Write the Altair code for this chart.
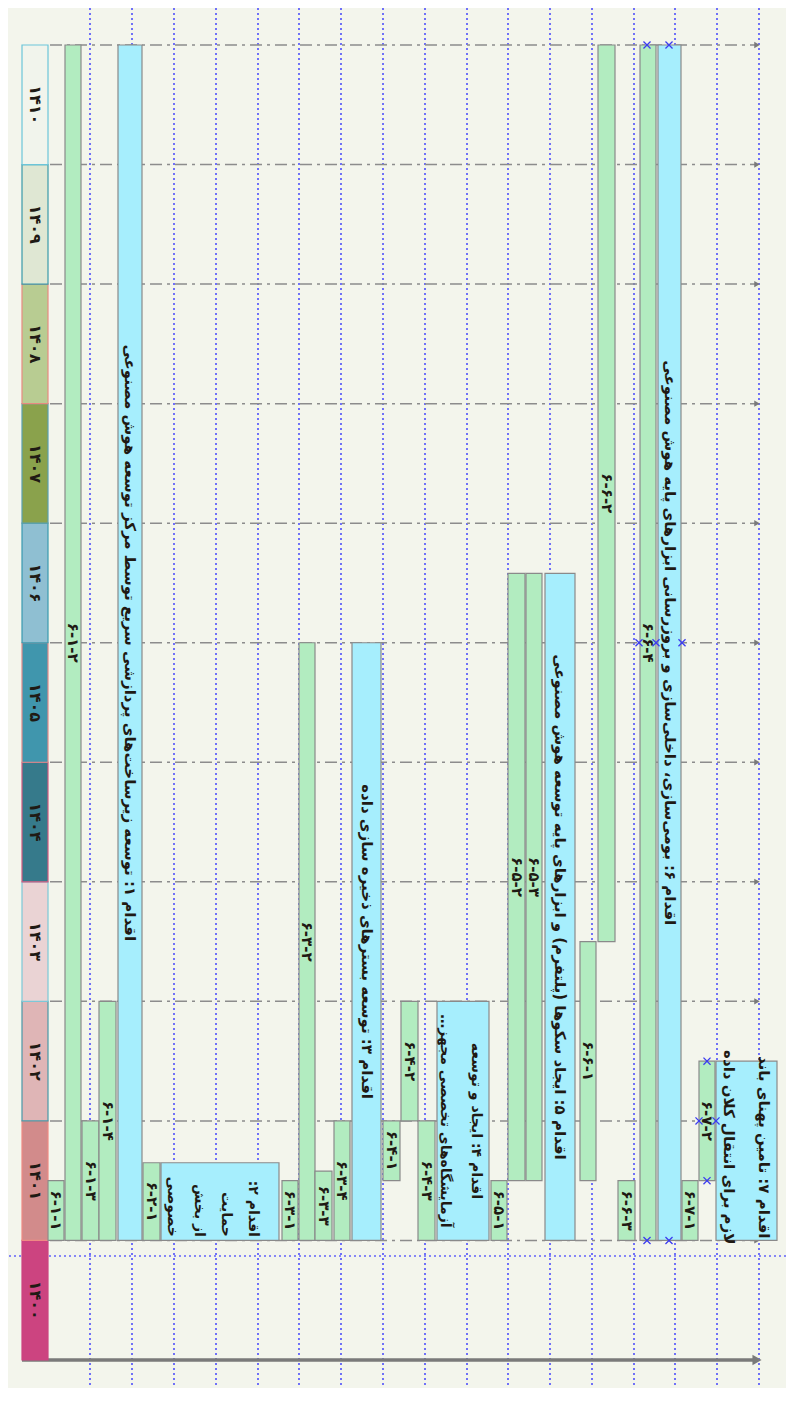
import altair as alt
import pandas as pd

# ---------------- data ----------------
years = list(range(1400, 1411))
year_labels = ["۱۴۰۰", "۱۴۰۱", "۱۴۰۲", "۱۴۰۳", "۱۴۰۴", "۱۴۰۵",
               "۱۴۰۶", "۱۴۰۷", "۱۴۰۸", "۱۴۰۹", "۱۴۱۰"]
year_fill = ["#cc4480", "#d28b8b", "#dfb5b6", "#ead3d4", "#367a8b", "#4096ad",
             "#8fbfd2", "#8aa24c", "#b8cc92", "#dfe7d3", "#f1f4ec"]
year_stroke = ["#cc4480", "#ef8a84", "#4a98a8", "#7cc8d8", "#d05a80", "#e08a8a",
               "#3a9ab0", "#5aa0b0", "#e88a80", "#3a9aaa", "#6cc5d9"]

A1 = "اقدام ۱: توسعه زیرساخت‌های پردازشی سریع توسط مرکز توسعه هوش مصنوعی"
A2 = "اقدام ۲:\u200f\nحمایت\nاز بخش\nخصوصی"
A3 = "اقدام ۳: توسعه بسترهای ذخیره سازی داده"
A4 = "اقدام ۴: ایجاد و توسعه\nآزمایشگاه‌های تخصصی مجهز…\u200f"
A5 = "اقدام ۵: ایجاد سکوها (پلتفرم) و ابزارهای پایه توسعه هوش مصنوعی"
A6 = "اقدام ۶: بومی‌سازی، داخلی‌سازی و بروزرسانی ابزارهای پایه هوش مصنوعی"
A7 = "اقدام ۷: تامین پهنای باند\nلازم برای انتقال کلان داده"

task_labels = ["۶-۱-۱", "۶-۱-۲", "۶-۱-۳", "۶-۱-۴", A1, "۶-۲-۱", A2,
               "۶-۳-۱", "۶-۳-۲", "۶-۳-۳", "۶-۳-۴", A3,
               "۶-۴-۱", "۶-۴-۲", "۶-۴-۳", A4,
               "۶-۵-۱", "۶-۵-۲", "۶-۵-۳", A5,
               "۶-۶-۱", "۶-۶-۲", "۶-۶-۳", "۶-۶-۴", A6,
               "۶-۷-۱", "۶-۷-۲", A7]
task_kind = ["sub", "sub", "sub", "sub", "act", "sub", "act",
             "sub", "sub", "sub", "sub", "act",
             "sub", "sub", "sub", "act",
             "sub", "sub", "sub", "act",
             "sub", "sub", "sub", "sub", "act",
             "sub", "sub", "act"]
task_start = [1401, 1401, 1401, 1401, 1401, 1401, 1401,
              1401, 1401, 1401, 1401, 1401,
              1401.5, 1402, 1401, 1401,
              1401, 1401.5, 1401.5, 1401,
              1401.5, 1403.5, 1401, 1401, 1401,
              1401, 1401.5, 1401]
task_end = [1401.5, 1411, 1402, 1403, 1411, 1401.65, 1401.65,
            1401.5, 1406, 1401.58, 1402, 1406,
            1402, 1403, 1402, 1403,
            1401.5, 1406.58, 1406.58, 1406.58,
            1403.5, 1411, 1401.5, 1411, 1411,
            1401.5, 1402.5, 1402.5]
# row (lane) extent of every task across the rotated chart
task_row_lo = [48, 65, 82, 99, 118, 143, 161,
               282, 299, 315, 334, 352,
               383, 401, 418, 437,
               491, 508, 526, 545,
               580, 598, 618, 640, 658,
               682, 699, 716]
task_row_hi = [64, 81, 99, 116, 142, 160, 279,
               298, 315, 332, 350, 381,
               400, 418, 435, 489,
               507, 525, 542, 575,
               596, 615, 635, 656, 681,
               698, 715, 777]

# wrapped labels of the wide boxes: one entry per line
line_rows = {6: [253, 226, 199, 172], 15: [476, 445], 27: [764, 729]}
line_years = {6: 1401.03, 15: 1402.0, 27: 1401.78}
line_aligns = {6: "right", 15: "center", 27: "center"}

grid_rows = [90, 132, 174, 216, 258, 299, 341, 383, 425, 467, 508,
             550, 592, 634, 675, 717, 759]
today_year = 1400.87

marker_row = [647, 669, 639, 656, 682, 647, 669, 707, 699, 716, 707]
marker_year = [1411, 1411, 1406, 1406, 1406, 1401, 1401, 1402.5, 1402, 1402, 1401.5]

# ---------------- frames ----------------
yr = pd.DataFrame({"y0": years, "y1": [y + 1 for y in years], "label": year_labels,
                   "fill": year_fill, "stroke": year_stroke})
yr["ym"] = yr["y0"] + 0.5
yr["x0"] = 22
yr["x1"] = 48
yr["xm"] = 35

bounds = pd.DataFrame({"y": [y + 1 for y in years], "x0": 50, "x1": 756, "xa": 757})
axis_df = pd.DataFrame({"y": [1400], "x0": 22, "x1": 754, "xa": 757})

tasks = pd.DataFrame({"label": task_labels, "kind": task_kind, "s": task_start,
                      "e": task_end, "lo": task_row_lo, "hi": task_row_hi})
tasks["xm"] = (tasks["lo"] + tasks["hi"]) / 2
tasks["ym"] = (tasks["s"] + tasks["e"]) / 2
tasks["wrapped"] = [i in line_rows for i in range(len(tasks))]
tasks["fill"] = tasks["kind"].map({"sub": "#b2ecc0", "act": "#a6eefd"})

rows = []
for i, xs_ in line_rows.items():
    for txt, xr in zip(task_labels[i].split("\n"), xs_):
        rows.append({"text": txt, "x": xr, "y": line_years[i], "align": line_aligns[i],
                     "big": i == 27})
lines = pd.DataFrame(rows)

grid = pd.DataFrame({"x": grid_rows})
today = pd.DataFrame({"y": [today_year]})
marks = pd.DataFrame({"x": marker_row, "y": marker_year})

xs = alt.Scale(domain=[8, 786], nice=False, zero=False)
ys = alt.Scale(domain=[1399.7658, 1411.3095], nice=False, zero=False)


def X(f):
    return alt.X(f, type="quantitative", scale=xs, axis=None)


def Y(f):
    return alt.Y(f, type="quantitative", scale=ys, axis=None)


FONT = "DejaVu Sans"
TXT = "#1f1a14"

vgrid = alt.Chart(grid).mark_rule(color="#1a1aff", strokeDash=[2, 3], strokeWidth=1.2).encode(x=X("x"))
hgrid = alt.Chart(today).mark_rule(color="#1a1aff", strokeDash=[2, 3], strokeWidth=1.2).encode(y=Y("y"))

year_rect = alt.Chart(yr).mark_rect(strokeWidth=1.2).encode(
    x=X("x0"), x2="x1", y=Y("y0"), y2="y1",
    fill=alt.Fill("fill:N", scale=None), stroke=alt.Stroke("stroke:N", scale=None))
year_text = alt.Chart(yr).mark_text(angle=90, font=FONT, fontSize=16, fontWeight="bold",
                                    color=TXT, align="center", baseline="middle").encode(
    x=X("xm"), y=Y("ym"), text="label:N")

bound_lines = alt.Chart(bounds).mark_rule(color="#8c8c8c", strokeWidth=1.5,
                                          strokeDash=[12, 5, 3, 5]).encode(
    x=X("x0"), x2="x1", y=Y("y"))
bound_arrows = alt.Chart(bounds).mark_point(shape="triangle-right", filled=True, size=40,
                                            color="#7a7a7a", opacity=1).encode(x=X("xa"), y=Y("y"))
axis_line = alt.Chart(axis_df).mark_rule(color="#7a7a7a", strokeWidth=3.5).encode(
    x=X("x0"), x2="x1", y=Y("y"))
axis_arrow = alt.Chart(axis_df).mark_point(shape="triangle-right", filled=True, size=110,
                                           color="#7a7a7a", opacity=1).encode(x=X("xa"), y=Y("y"))

bars = alt.Chart(tasks).mark_rect(stroke="#8a8a8a", strokeWidth=1.2).encode(
    x=X("lo"), x2="hi", y=Y("s"), y2="e", fill=alt.Fill("fill:N", scale=None))

sub_text = alt.Chart(tasks).transform_filter("datum.kind == 'sub'").mark_text(
    angle=90, font=FONT, fontSize=15, fontWeight="bold", color=TXT,
    align="center", baseline="middle").encode(x=X("xm"), y=Y("ym"), text="label:N")
act_text = alt.Chart(tasks).transform_filter(
    "datum.kind == 'act' && !datum.wrapped").mark_text(
    angle=90, font=FONT, fontSize=15, fontWeight="bold", color=TXT, align="center",
    baseline="middle").encode(x=X("xm"), y=Y("ym"), text="label:N")

line_c = alt.Chart(lines).transform_filter("datum.align == 'center'").mark_text(
    angle=90, font=FONT, fontSize=14, fontWeight="bold", color=TXT, align="center",
    baseline="middle").encode(x=X("x"), y=Y("y"), text="text:N",
                              size=alt.Size("big:N", scale=alt.Scale(domain=[False, True], range=[14, 15]), legend=None))
line_r = alt.Chart(lines).transform_filter("datum.align == 'right'").mark_text(
    angle=90, font=FONT, fontSize=14, fontWeight="bold", color=TXT, align="right",
    baseline="middle").encode(x=X("x"), y=Y("y"), text="text:N")

xmarks = alt.Chart(marks).mark_point(shape="M-1,-1L1,1M-1,1L1,-1", filled=False, size=50,
                                     color="#3c3cf0", strokeWidth=1.3, opacity=1).encode(
    x=X("x"), y=Y("y"))

chart = alt.layer(
    vgrid, hgrid, bound_lines, bound_arrows, axis_line, axis_arrow,
    year_rect, year_text, bars, sub_text, act_text, line_c, line_r, xmarks
).properties(
    width=778, height=1380, padding=0,
    autosize=alt.AutoSizeParams(type="none"),
    background="#f3f5ec"
).configure_view(stroke=None)

chart.save("out.html", embed_options={"renderer": "svg", "actions": False})
